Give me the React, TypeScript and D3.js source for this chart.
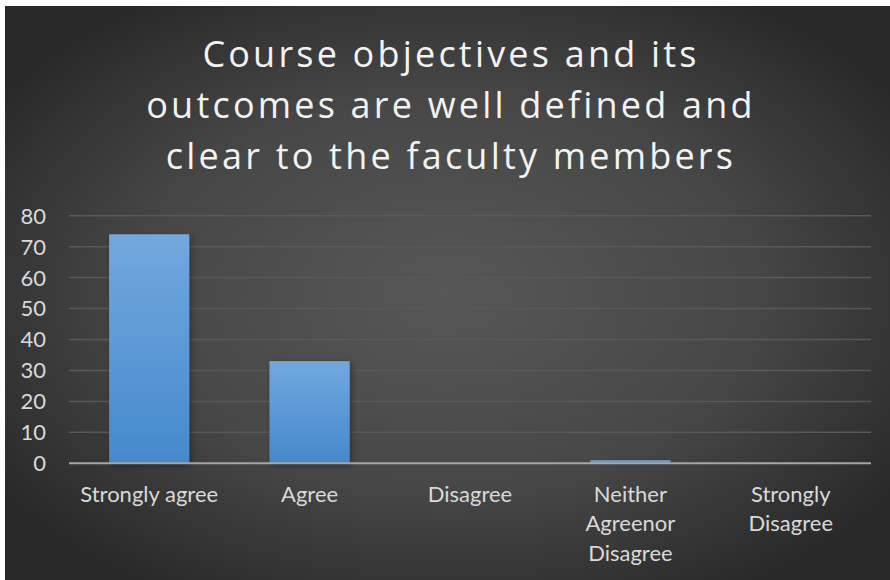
import React from "react";
import * as d3 from "d3";

const categories = ["Strongly agree", "Agree", "Disagree", "Neither Agreenor Disagree", "Strongly Disagree"];
const categoryLines = [["Strongly agree"], ["Agree"], ["Disagree"], ["Neither", "Agreenor", "Disagree"], ["Strongly", "Disagree"]];
const values = [74, 33, 0, 1, 0];
const yTicks = [0, 10, 20, 30, 40, 50, 60, 70, 80];
const titleLines = ["Course objectives and its", "outcomes are well defined and", "clear to the faculty members"];

const W = 890;
const H = 580;
const FONT = "Lato, 'Open Sans', sans-serif";
const TITLE_FONT = "'Open Sans', Lato, sans-serif";

export default function App() {
  const x = d3.scaleBand<string>().domain(categories).range([69, 871]).paddingInner(0.5).paddingOuter(0.25);
  const y = d3.scaleLinear().domain([0, 80]).range([463.3, 215.7]);

  return (
    <svg width={W} height={H} style={{ position: "absolute", left: 0, top: 0, display: "block" }}>
      <defs>
        <radialGradient id="bg" cx="0.5" cy="0.5" r="0.62" gradientUnits="objectBoundingBox">
          <stop offset="0" stopColor="#575757" />
          <stop offset="0.55" stopColor="#474747" />
          <stop offset="1" stopColor="#282828" />
        </radialGradient>
        <linearGradient id="bar" x1="0" y1="0" x2="0" y2="1">
          <stop offset="0" stopColor="#72a8de" />
          <stop offset="1" stopColor="#4589cb" />
        </linearGradient>
        <filter id="sh" x="-20%" y="-20%" width="140%" height="140%">
          <feDropShadow dx="2" dy="2" stdDeviation="3" floodColor="#000" floodOpacity="0.35" />
        </filter>
      </defs>
      <rect x={0} y={0} width={W} height={H} fill="#ffffff" />
      <rect x={5} y={6} width={W - 5} height={H - 6} fill="url(#bg)" />

      {titleLines.map((t, i) => (
        <text
          key={i}
          x={451}
          y={67 + i * 51}
          textAnchor="middle"
          fill="#f2f2f2"
          fontFamily={TITLE_FONT}
          fontSize={36}
          fontWeight={400}
          letterSpacing={3.2}
        >
          {t}
        </text>
      ))}

      {yTicks.filter((t) => t > 0).map((t) => (
        <line key={t} x1={69} x2={871} y1={y(t)} y2={y(t)} stroke="#595959" strokeWidth={1.5} />
      ))}

      {yTicks.map((t) => (
        <text
          key={"l" + t}
          x={46}
          y={y(t)}
          dy="0.36em"
          textAnchor="end"
          fill="#d9d9d9"
          fontFamily={FONT}
          fontSize={22}
        >
          {t}
        </text>
      ))}

      {categories.map((c, i) =>
        values[i] > 0 ? (
          <rect
            key={c}
            x={x(c)}
            y={y(values[i])}
            width={x.bandwidth()}
            height={y(0) - y(values[i])}
            fill="url(#bar)"
            filter="url(#sh)"
          />
        ) : null
      )}

      <line x1={69} x2={871} y1={y(0)} y2={y(0)} stroke="#a6a6a6" strokeWidth={2} />

      {categories.map((c, i) => (
        <text
          key={"c" + c}
          x={(x(c) as number) + x.bandwidth() / 2}
          y={502}
          textAnchor="middle"
          fill="#d9d9d9"
          fontFamily={FONT}
          fontSize={22}
        >
          {categoryLines[i].map((ln, j) => (
            <tspan key={j} x={(x(c) as number) + x.bandwidth() / 2} dy={j === 0 ? 0 : 29.3}>
              {ln}
            </tspan>
          ))}
        </text>
      ))}
    </svg>
  );
}
